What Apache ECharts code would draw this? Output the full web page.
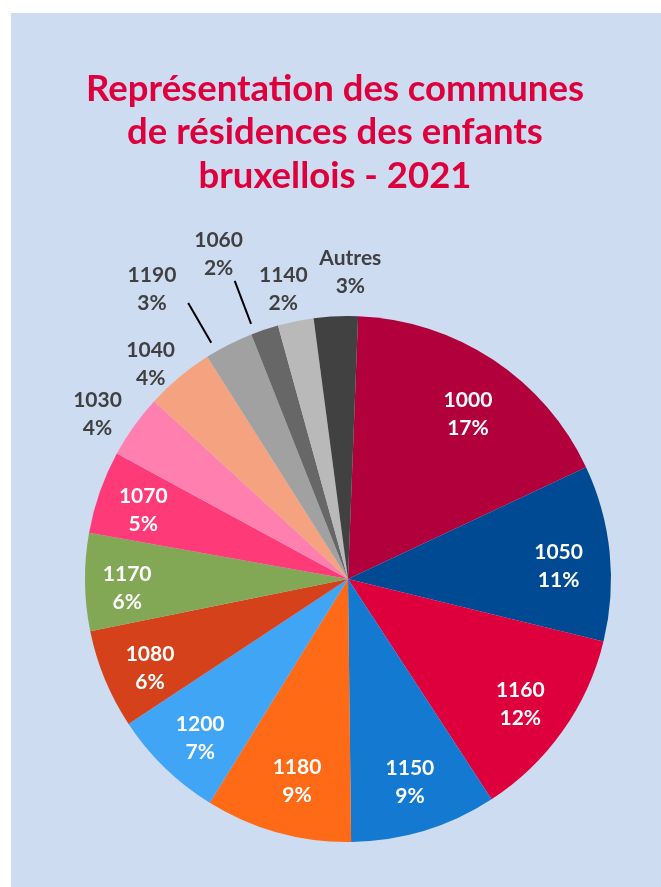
<!DOCTYPE html>
<html>
<head>
<meta charset="utf-8">
<script src="https://cdn.jsdelivr.net/npm/echarts@6/dist/echarts.min.js"></script>
<style>
html,body{margin:0;padding:0;background:#ffffff;}
#chart{width:661px;height:887px;}
</style>
</head>
<body>
<div id="chart"></div>
<script>
// Data
var titleLines = ['Représentation des communes', 'de résidences des enfants', 'bruxellois - 2021'];
var communes = ['1000', '1050', '1160', '1150', '1180', '1200', '1080', '1170', '1070', '1030', '1040', '1190', '1060', '1140', 'Autres'];
var parts = [17.4, 10.8, 12.0, 9.0, 9.0, 6.9, 6.1, 6.0, 5.1, 3.9, 4.2, 3.0, 1.7, 2.2, 2.7];

// Styling / label placement (not data)
var colors = ['#b1003b', '#004a93', '#de003c', '#1479d1', '#ff6a17', '#41a5f5', '#d5411a', '#82a855', '#ff3a78', '#ff80ae', '#f4a27f', '#a1a1a1', '#676767', '#b9b9b9', '#414141'];
var labelInside = [true, true, true, true, true, true, true, true, true, false, false, false, false, false, false];
var labelRadius = [204, 211, 213, 212, 209, 217, 217, 221, 216, 300, 292, 350, 350, 297, 307];
var labelAngleNudge = [2.5, 2.2, 0.7, -0.1, -1.4, -1.2, -1.7, -1.6, -0.7, -2.1, -2.6, -7.1, -3.2, -1.1, 3.1];
var leaderLine = [false, false, false, false, false, false, false, false, false, false, false, true, true, false, false];
var leaderAngleNudge = [0, 0, 0, 0, 0, 0, 0, 0, 0, 0, 0, -3.1, -2.3, 0, 0];

var CX = 348, CY = 579, R = 263, START = 87.8;
var FONT = 'Lato';

function fmt(p) { return p.name + '\n' + Math.round(p.percent) + '%'; }
function rot(pt, deg) {
  var a = deg * Math.PI / 180, dx = pt[0] - CX, dy = pt[1] - CY;
  return [CX + dx * Math.cos(a) - dy * Math.sin(a), CY + dx * Math.sin(a) + dy * Math.cos(a)];
}

var chart = echarts.init(document.getElementById('chart'), null, { renderer: 'canvas' });
chart.setOption({
  animation: false,
  backgroundColor: '#ffffff',
  graphic: [
    { type: 'rect', z: -10, silent: true, shape: { x: 11, y: 13, width: 650, height: 874 }, style: { fill: '#cddcf1' } },
    { type: 'text', silent: true, x: 335, y: 67, style: { text: titleLines.join('\n'), textAlign: 'center', textVerticalAlign: 'top',
      fill: '#de003c', font: 'bold 36.5px Lato', lineHeight: 43.5 } }
  ],
  series: [
    {
      type: 'pie', center: [CX, CY], radius: R, startAngle: START, clockwise: true,
      silent: true, avoidLabelOverlap: false, emphasis: { disabled: true },
      label: { show: false }, labelLine: { show: false },
      itemStyle: { borderWidth: 0 },
      data: communes.map(function (n, i) { return { name: n, value: parts[i], itemStyle: { color: colors[i] } }; })
    },
    {
      type: 'pie', center: [CX, CY], radius: R, startAngle: START, clockwise: true,
      silent: true, avoidLabelOverlap: false, emphasis: { disabled: true },
      itemStyle: { color: 'rgba(0,0,0,0)', borderWidth: 0 },
      labelLine: { show: true, length: 20, length2: 5, lineStyle: { color: 'rgba(0,0,0,0)', width: 0 } },
      label: { show: true, position: 'outside', formatter: fmt,
        fontFamily: FONT, fontWeight: 'bold', fontSize: 21, lineHeight: 28 },
      labelLayout: function (p) {
        var pts = p.labelLinePoints;
        var i = p.dataIndex;
        if (!pts) { return {}; }
        var ang = Math.atan2(pts[0][1] - CY, pts[0][0] - CX) + labelAngleNudge[i] * Math.PI / 180;
        var rl = labelRadius[i];
        return { x: CX + rl * Math.cos(ang), y: CY + rl * Math.sin(ang), align: 'center', verticalAlign: 'middle' };
      },
      data: communes.map(function (n, i) {
        return { name: n, value: parts[i], label: { color: labelInside[i] ? '#ffffff' : '#404040' } };
      })
    },
    {
      type: 'pie', center: [CX, CY], radius: 273, startAngle: START, clockwise: true,
      silent: true, avoidLabelOverlap: false, emphasis: { disabled: true },
      itemStyle: { color: 'rgba(0,0,0,0)', borderWidth: 0 },
      label: { show: false, position: 'outside', formatter: '.', color: 'rgba(0,0,0,0)', fontSize: 10 },
      labelLine: { show: false, length: 46, length2: 0, lineStyle: { color: '#000000', width: 2 } },
      labelLayout: function (p) {
        var pts = p.labelLinePoints;
        var i = p.dataIndex;
        if (!pts || !leaderLine[i]) { return {}; }
        return { labelLinePoints: pts.map(function (pt) { return rot(pt, leaderAngleNudge[i]); }) };
      },
      data: communes.map(function (n, i) {
        var on = leaderLine[i];
        return { name: n, value: parts[i], label: { show: on }, labelLine: { show: on } };
      })
    }
  ]
});
</script>
</body>
</html>
